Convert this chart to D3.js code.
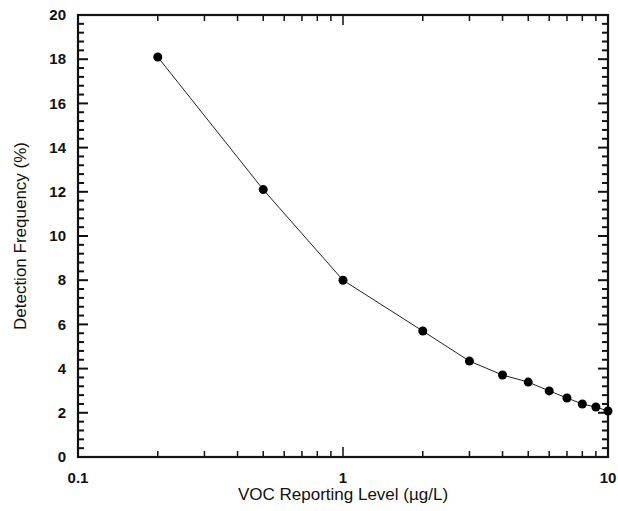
<!DOCTYPE html>
<html>
<head>
<meta charset="utf-8">
<script src="https://cdn.jsdelivr.net/npm/d3@7"></script>
<style>
  body { margin: 0; background: #fff; }
  svg { display: block; font-family: "Liberation Sans", Arial, sans-serif; }
  .tick-label { font-size: 15px; font-weight: bold; fill: #111; }
  .axis-title { font-size: 17px; fill: #111; }
</style>
</head>
<body>
<div id="chart"></div>
<script>
const levels = [0.2, 0.5, 1, 2, 3, 4, 5, 6, 7, 8, 9, 10];
const frequency = [18.1, 12.1, 8.0, 5.7, 4.34, 3.71, 3.39, 2.99, 2.67, 2.40, 2.26, 2.08];
const xTickLabels = [0.1, 1, 10];
const yTickLabels = [0, 2, 4, 6, 8, 10, 12, 14, 16, 18, 20];

const W = 618, H = 511;
const MARGIN = { top: 15, right: 10, bottom: 54, left: 78 };
const chartWidth = W - MARGIN.left - MARGIN.right;
const chartHeight = H - MARGIN.top - MARGIN.bottom;

const svg = d3.select("#chart").append("svg")
  .attr("width", W).attr("height", H);

const g = svg.append("g")
  .attr("transform", `translate(${MARGIN.left},${MARGIN.top})`);

const x = d3.scaleLog().domain([0.1, 10]).range([0, chartWidth]);
const y = d3.scaleLinear().domain([0, 20]).range([chartHeight, 0]);

// minor/major tick values
const xMinor = [];
[0.1, 1].forEach(base => { for (let k = 2; k <= 9; k++) xMinor.push(base * k); });
const yMinor = d3.range(0, 20.01, 0.4).filter(v => Math.abs(v / 2 - Math.round(v / 2)) > 1e-6);

const tickStroke = "#111";

// y ticks left & right
function yTicks(side) {
  const x0 = side === "left" ? 0 : chartWidth;
  const dir = side === "left" ? 1 : -1;
  g.selectAll(null).data(yTickLabels).enter().append("line")
    .attr("x1", x0).attr("x2", x0 + dir * 10)
    .attr("y1", d => y(d)).attr("y2", d => y(d))
    .attr("stroke", tickStroke).attr("stroke-width", 2);
  g.selectAll(null).data(yMinor).enter().append("line")
    .attr("x1", x0).attr("x2", x0 + dir * 6)
    .attr("y1", d => y(d)).attr("y2", d => y(d))
    .attr("stroke", tickStroke).attr("stroke-width", 2);
}
yTicks("left");
yTicks("right");

// x ticks bottom & top
function xTicks(side) {
  const y0 = side === "bottom" ? chartHeight : 0;
  const dir = side === "bottom" ? -1 : 1;
  g.selectAll(null).data(xTickLabels).enter().append("line")
    .attr("x1", d => x(d)).attr("x2", d => x(d))
    .attr("y1", y0).attr("y2", y0 + dir * 10)
    .attr("stroke", tickStroke).attr("stroke-width", 1.5);
  g.selectAll(null).data(xMinor).enter().append("line")
    .attr("x1", d => x(d)).attr("x2", d => x(d))
    .attr("y1", y0).attr("y2", y0 + dir * 6)
    .attr("stroke", tickStroke).attr("stroke-width", 1.5);
}
xTicks("bottom");
xTicks("top");

// frame
g.append("rect")
  .attr("width", chartWidth).attr("height", chartHeight)
  .attr("fill", "none").attr("stroke", tickStroke).attr("stroke-width", 2.2);

// tick labels
g.selectAll(null).data(yTickLabels).enter().append("text")
  .attr("class", "tick-label")
  .attr("x", -12).attr("y", d => y(d)).attr("dy", "0.35em")
  .attr("text-anchor", "end")
  .text(d => d);

g.selectAll(null).data(xTickLabels).enter().append("text")
  .attr("class", "tick-label")
  .attr("x", d => x(d)).attr("y", chartHeight + 26)
  .attr("text-anchor", "middle")
  .text(d => d);

// axis titles
g.append("text")
  .attr("class", "axis-title")
  .attr("x", chartWidth / 2).attr("y", chartHeight + 43)
  .attr("text-anchor", "middle")
  .text("VOC Reporting Level (µg/L)");

g.append("text")
  .attr("class", "axis-title")
  .attr("transform", "rotate(-90)")
  .attr("x", -chartHeight / 2).attr("y", -52)
  .attr("text-anchor", "middle")
  .text("Detection Frequency (%)");

// line + points
const pts = levels.map((v, i) => ({ x: v, y: frequency[i] }));
g.append("path")
  .datum(pts)
  .attr("fill", "none").attr("stroke", "#222").attr("stroke-width", 1)
  .attr("d", d3.line().x(d => x(d.x)).y(d => y(d.y)));

g.selectAll(".pt").data(pts).enter().append("circle")
  .attr("class", "pt")
  .attr("cx", d => x(d.x)).attr("cy", d => y(d.y))
  .attr("r", 4.5).attr("fill", "#000");
</script>
</body>
</html>
